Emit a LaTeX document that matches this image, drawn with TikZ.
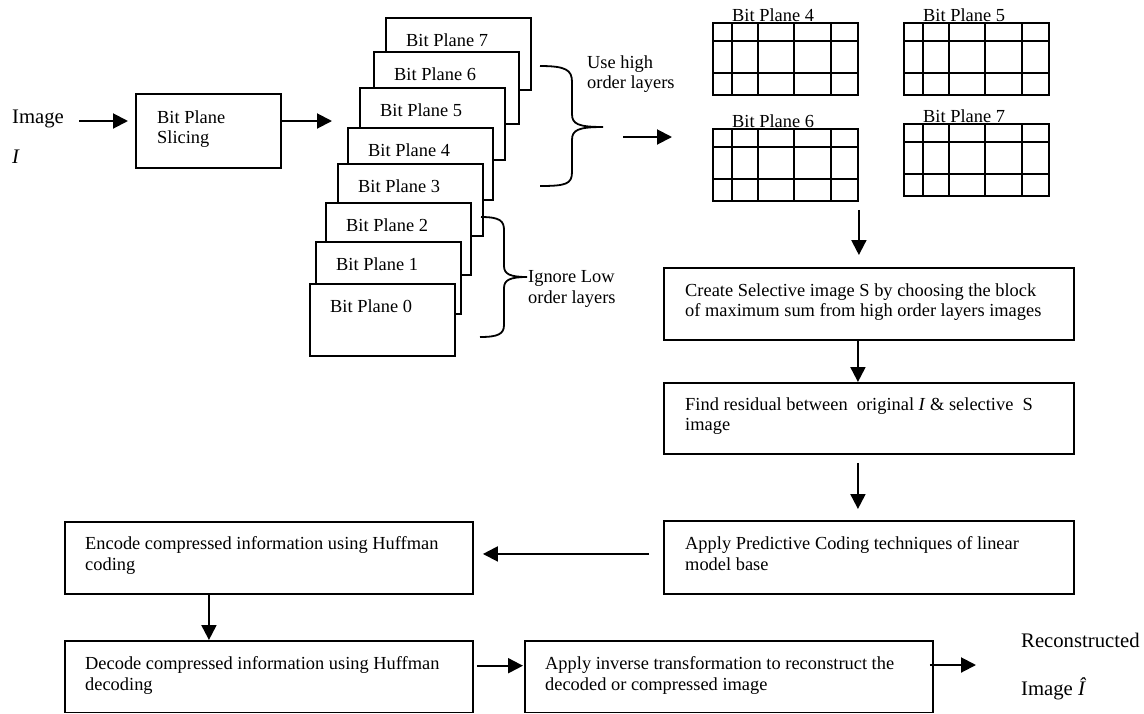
\documentclass[tikz,border=0pt]{standalone}
\usepackage{fontspec}
\setmainfont{Liberation Serif}
\usetikzlibrary{arrows.meta}
\begin{document}
\begin{tikzpicture}[x=1pt,y=-1pt,
  box/.style={draw, line width=1.9pt, inner sep=0pt, anchor=north west},
  txt/.style={font=\fontsize{18.4}{20.5}\selectfont, inner sep=0pt, align=left, anchor=base west},
  big/.style={font=\fontsize{20.7}{24}\selectfont, inner sep=0pt, anchor=base west},
  arr/.style={line width=2pt, -{Triangle[length=15pt,width=15pt]}},
  gridln/.style={line width=1.9pt},
  brace/.style={line width=1.8pt},
]
\useasboundingbox (0,0) rectangle (1144,713);

% input image and slicing stage
\node[big] (imgin) at (12,123) {Image};
\node[big] (imgI) at (12,163) {\textit{I}};
\node[box, minimum width=145, minimum height=74] (slice) at (135,93) {};
\node[txt, anchor=north west] (slicetxt) at (157,110.4) {Bit Plane\\Slicing};
\coordinate (inA) at (79,121);
\draw[arr, shorten >=7pt] (inA) -- (inA -| slice.west);
\coordinate (stackin) at (332,121);
\draw[arr] (slice.east |- stackin) -- (stackin);

% stack of bit planes, back to front
\foreach \n/\x/\y in {7/385/17, 6/373/51, 5/359/87, 4/347/127, 3/337/163, 2/325/202, 1/315/241, 0/309/283} {
  \node[box, fill=white, minimum width=145, minimum height=72] (bp\n) at (\x,\y) {};
  \node[txt] (bpt\n) at ([shift={(21,29)}]bp\n.north west) {Bit Plane \n};
}

% braces grouping the planes
\draw[brace] (540,66) .. controls (566,66) and (572,70) .. (572,82) -- (572,114)
  .. controls (572,124) and (578,127) .. (603,127)
  .. controls (578,127) and (572,130) .. (572,140) -- (572,172)
  .. controls (572,184) and (566,186) .. (540,186);
\node[txt, anchor=north west] (usehigh) at (587,55.4) {Use high\\order layers};
\draw[brace] (481,217) .. controls (500,217) and (504,221) .. (504,230) -- (504,266)
  .. controls (504,274) and (510,277) .. (527,277)
  .. controls (510,277) and (504,280) .. (504,288) -- (504,325)
  .. controls (504,334) and (498,337) .. (480,337);
\node[txt, anchor=north west] (ignore) at (528,270.4) {Ignore Low\\order layers};
\coordinate (gA) at (623,137);
\coordinate (gB) at (672,137);
\draw[arr] (gA) -- (gB);

% block grids of the high order planes
\foreach \n/\x/\y in {4/712/22, 5/903/22, 6/712/128, 7/903/123} {
  \node[box, minimum width=145, minimum height=72] (g\n) at (\x,\y) {};
  \foreach \gx in {20,46,82,119}
    \draw[gridln] ([shift={(\gx,0)}]g\n.north west) -- ([shift={(\gx,0)}]g\n.south west);
  \foreach \gy in {19,51}
    \draw[gridln] ([shift={(0,\gy)}]g\n.north west) -- ([shift={(0,\gy)}]g\n.north east);
  \node[txt] (gt\n) at ([shift={(20,-1)}]g\n.north west) {Bit Plane \n};
}

% processing chain, right column
\node[box, minimum width=410, minimum height=72] (create) at (663,267) {};
\node[txt, anchor=north west] (createtxt) at (685,283.4)
  {Create Selective image S by choosing the block\\of maximum sum from high order layers images};
\node[box, minimum width=410, minimum height=71] (find) at (663,382) {};
\node[txt, anchor=north west] (findtxt) at (685,397.4)
  {Find residual between\ \ original \textit{I} \& selective\ \ S\\image};
\node[box, minimum width=410, minimum height=73] (apply) at (663,520) {};
\node[txt, anchor=north west] (applytxt) at (685,536.4)
  {Apply Predictive Coding techniques of linear\\model base};

\draw[arr, shorten <=8pt, shorten >=12pt] (g6.south east) -- (g6.south east |- create.north);
\draw[arr] ([xshift=-11]create.south) -- ([xshift=-11]find.north);
\draw[arr, shorten <=8pt, shorten >=11pt] ([xshift=-11]find.south) -- ([xshift=-11]apply.north);

% coding and reconstruction, bottom rows
\node[box, minimum width=408, minimum height=72] (encode) at (64,521) {};
\node[txt, anchor=north west] (encodetxt) at (85,536.4)
  {Encode compressed information using Huffman\\coding};
\node[box, minimum width=408, minimum height=71.5] (decode) at (64,640) {};
\node[txt, anchor=north west] (decodetxt) at (85,656.4)
  {Decode compressed information using Huffman\\decoding};
\node[box, minimum width=408, minimum height=71.5] (inverse) at (524,640) {};
\node[txt, anchor=north west] (inversetxt) at (545,656.4)
  {Apply inverse transformation to reconstruct the\\decoded or compressed image};

\draw[arr, shorten <=14pt, shorten >=9pt] ([yshift=3.5]apply.west) -- ([yshift=3.5]apply.west -| encode.east);
\draw[arr] ([xshift=-60]encode.south) -- ([xshift=-60]decode.north);
\draw[arr, shorten <=3pt, shorten >=1pt] ([yshift=11]decode.east) -- ([yshift=11]inverse.west);

\node[big] (recon) at (1021,647) {Reconstructed};
\node[big] (imgout) at (1021,695) {Image \textit{Î}};
\coordinate (outtip) at (976,665);
\draw[arr] ([xshift=-4]inverse.east |- outtip) -- (outtip);
\end{tikzpicture}
\end{document}
